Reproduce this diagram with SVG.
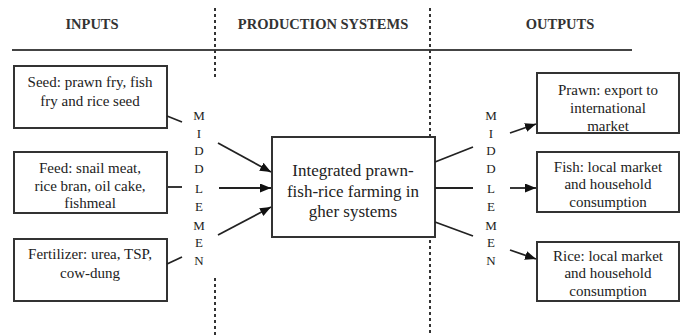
<svg xmlns="http://www.w3.org/2000/svg" width="685" height="336" viewBox="0 0 685 336">
<defs>
<marker id="ah" markerUnits="userSpaceOnUse" markerWidth="12" markerHeight="10" refX="11" refY="4.5" orient="auto">
<path d="M0,0 L11,4.5 L0,9 z" fill="#111"/>
</marker>
<style>
.box{fill:#fff;stroke:#333;stroke-width:2}
.t{font-family:"Liberation Serif","Times New Roman",serif;font-size:15px;fill:#222;text-anchor:middle}
.c{font-size:17px}
.h{font-family:"Liberation Serif","Times New Roman",serif;font-size:14.5px;font-weight:bold;fill:#333;text-anchor:middle}
.m{font-family:"Liberation Serif","Times New Roman",serif;font-size:13px;fill:#222;text-anchor:middle}
.dash{stroke:#333;stroke-width:2;stroke-dasharray:3 3;fill:none}
.ln{stroke:#222;stroke-width:1.8;fill:none}
.arr{stroke:#222;stroke-width:1.8;fill:none;marker-end:url(#ah)}
</style>
</defs>
<rect width="685" height="336" fill="#fff"/>
<g id="header">
<text class="h" x="92" y="29">INPUTS</text>
<text class="h" x="323" y="29">PRODUCTION SYSTEMS</text>
<text class="h" x="560" y="29">OUTPUTS</text>
<line x1="12" y1="50" x2="632" y2="50" stroke="#444" stroke-width="2.2"/>
</g>
<g id="dividers">
<line class="dash" x1="215" y1="8" x2="215" y2="80"/>
<line class="dash" x1="215" y1="278" x2="215" y2="336"/>
<line class="dash" x1="430" y1="8" x2="430" y2="137"/>
<line class="dash" x1="430" y1="240" x2="430" y2="336"/>
</g>
<g id="seed">
<rect class="box" x="14" y="66" width="153" height="62"/>
<text class="t" x="90" y="87">Seed: prawn fry, fish</text>
<text class="t" x="90" y="106">fry and rice seed</text>
</g>
<g id="feed">
<rect class="box" x="14" y="152" width="153" height="61"/>
<text class="t" x="90" y="173">Feed: snail meat,</text>
<text class="t" x="90" y="191">rice bran, oil cake,</text>
<text class="t" x="90" y="208">fishmeal</text>
</g>
<g id="fertilizer">
<rect class="box" x="14" y="239" width="153" height="62"/>
<text class="t" x="90" y="259">Fertilizer: urea, TSP,</text>
<text class="t" x="90" y="278">cow-dung</text>
</g>
<g id="middlemen-left">
<text class="m" x="199" y="120">M</text>
<text class="m" x="199" y="138">I</text>
<text class="m" x="199" y="155">D</text>
<text class="m" x="199" y="173">D</text>
<text class="m" x="199" y="193">L</text>
<text class="m" x="199" y="211">E</text>
<text class="m" x="199" y="230">M</text>
<text class="m" x="199" y="247">E</text>
<text class="m" x="199" y="265">N</text>
</g>
<g id="system">
<rect class="box" x="272" y="137" width="163" height="100"/>
<text class="t c" x="353" y="176">Integrated prawn-</text>
<text class="t c" x="353" y="197">fish-rice farming in</text>
<text class="t c" x="353" y="217">gher systems</text>
</g>
<g id="middlemen-right">
<text class="m" x="491" y="120">M</text>
<text class="m" x="491" y="138">I</text>
<text class="m" x="491" y="155">D</text>
<text class="m" x="491" y="173">D</text>
<text class="m" x="491" y="193">L</text>
<text class="m" x="491" y="211">E</text>
<text class="m" x="491" y="230">M</text>
<text class="m" x="491" y="247">E</text>
<text class="m" x="491" y="265">N</text>
</g>
<g id="prawn">
<rect class="box" x="537" y="73" width="142" height="60"/>
<text class="t" x="608" y="95">Prawn: export to</text>
<text class="t" x="608" y="113">international</text>
<text class="t" x="608" y="131">market</text>
</g>
<g id="fish">
<rect class="box" x="537" y="152" width="142" height="60"/>
<text class="t" x="608" y="172">Fish: local market</text>
<text class="t" x="608" y="189">and household</text>
<text class="t" x="608" y="207">consumption</text>
</g>
<g id="rice">
<rect class="box" x="537" y="242" width="142" height="59"/>
<text class="t" x="608" y="261">Rice: local market</text>
<text class="t" x="608" y="278">and household</text>
<text class="t" x="608" y="296">consumption</text>
</g>
<g id="connectors">
<line class="ln" x1="167" y1="116" x2="182" y2="122"/>
<line class="ln" x1="168" y1="187" x2="182" y2="187"/>
<line class="ln" x1="167" y1="264" x2="182" y2="257"/>
<line class="arr" x1="218" y1="143" x2="271" y2="172"/>
<line class="arr" x1="219" y1="188" x2="271" y2="188"/>
<line class="arr" x1="218" y1="235" x2="271" y2="207"/>
<line class="ln" x1="435" y1="162" x2="473" y2="147"/>
<line class="ln" x1="435" y1="188" x2="473" y2="188"/>
<line class="ln" x1="435" y1="222" x2="473" y2="236"/>
<line class="arr" x1="510" y1="133" x2="536" y2="124"/>
<line class="arr" x1="510" y1="188" x2="536" y2="188"/>
<line class="arr" x1="510" y1="250" x2="536" y2="259"/>
</g>
</svg>
